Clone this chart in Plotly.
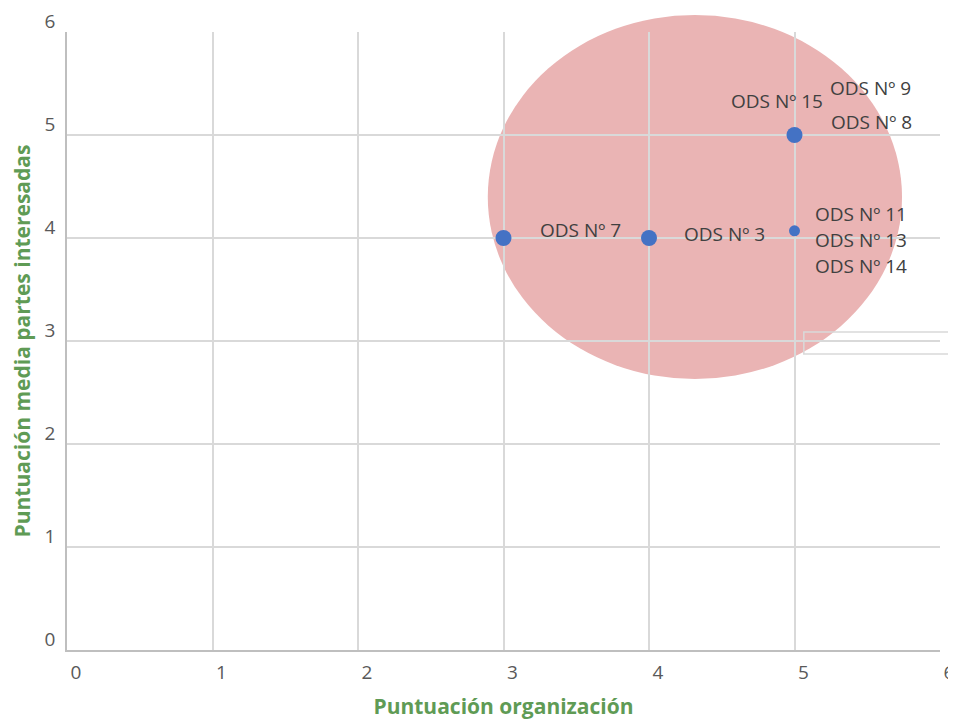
import plotly.graph_objects as go

# Data
org_scores = [3, 4, 5]
stake_scores = [4, 4, 5]
small_org = [5]
small_stake = [4.07]

labels = {
    (3, 4): [("ODS Nº 7", 34, 8, "left")],
    (4, 4): [("ODS Nº 3", 33, 4, "left")],
    (5, 5): [("ODS Nº 15", 30, 34, "right"), ("ODS Nº 9", 33, 47, "left"), ("ODS Nº 8", 34, 13, "left")],
    (5, 4.07): [("ODS Nº 11", 18, 17, "left"), ("ODS Nº 13", 18, -9, "left"), ("ODS Nº 14", 18, -35, "left")],
}

x_ticks = [0, 1, 2, 3, 4, 5, 6]
y_ticks = [0, 1, 2, 3, 4, 5, 6]

FONT = "Open Sans"
BLUE = "#4472C4"
GREEN = "#5F9B55"

fig = go.Figure()
fig.add_trace(go.Scatter(x=org_scores, y=stake_scores, mode="markers",
                         marker=dict(color=BLUE, size=16), showlegend=False, cliponaxis=False))
fig.add_trace(go.Scatter(x=small_org, y=small_stake, mode="markers",
                         marker=dict(color=BLUE, size=11), showlegend=False, cliponaxis=False))

annotations = []
for (px, py), items in labels.items():
    for text, xs, ys, anc in items:
        annotations.append(dict(x=px, y=py, xref="x", yref="y", text=text, showarrow=False,
                                xshift=xs, yshift=ys, xanchor=anc, yanchor="middle",
                                font=dict(family=FONT, size=19, color="#404040")))

fig.update_layout(
    width=948, height=722,
    margin=dict(l=59, r=16, t=24, b=80),
    paper_bgcolor="white", plot_bgcolor="white",
    font=dict(family=FONT, color="#595959"),
    annotations=annotations,
    shapes=[
        dict(type="circle", xref="paper", yref="paper", x0=0.482, x1=0.9565, y0=0.4385, y1=1.0275,
             fillcolor="#EAB4B4", line=dict(width=0), layer="below"),
        dict(type="rect", xref="paper", yref="paper", x0=0.844, x1=1.0115, y0=0.479, y1=0.5146,
             fillcolor="rgba(0,0,0,0)", line=dict(color="#D9D9D9", width=1.5), layer="above"),
    ],
    xaxis=dict(range=[0, 6], tickvals=x_ticks, showgrid=True, gridcolor="#D9D9D9", gridwidth=1.5,
               zeroline=False, showline=True, linecolor="#BFBFBF", linewidth=1.5, automargin=False,
               tickfont=dict(family=FONT, size=19, color="#595959"), ticks="",
               ticklabelstandoff=4, ticklabelshift=9, ticklabeloverflow="allow",
               title=dict(text="<b>Puntuación organización</b>", font=dict(family=FONT, size=21, color=GREEN), standoff=16)),
    yaxis=dict(range=[0, 6], tickvals=y_ticks, showgrid=True, gridcolor="#D9D9D9", gridwidth=1.5,
               zeroline=False, showline=True, linecolor="#BFBFBF", linewidth=1.5, automargin=False,
               tickfont=dict(family=FONT, size=19, color="#595959"), ticks="",
               ticklabelstandoff=6, ticklabelshift=-11, ticklabeloverflow="allow",
               title=dict(text="<b>Puntuación media partes interesadas</b>", font=dict(family=FONT, size=21, color=GREEN), standoff=12)),
)

fig.write_html("out.html")
